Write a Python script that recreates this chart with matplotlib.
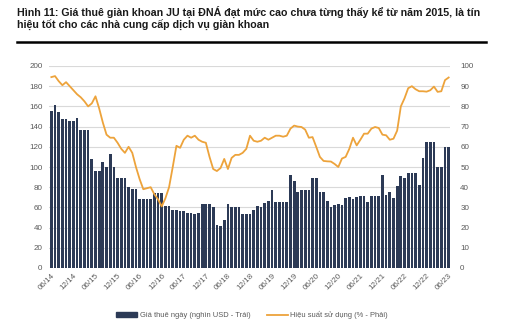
import numpy as np
import matplotlib
matplotlib.use('Agg')
import matplotlib.pyplot as plt
from matplotlib.patches import Patch
from matplotlib.lines import Line2D

plt.rcParams['font.family'] = ['Liberation Sans', 'DejaVu Sans']

# gia thue ngay (nghin USD), hang thang tu 06/14 den 06/23
day_rate = [155, 161, 154, 148, 148, 146, 146, 149, 137, 137,
            137, 108, 96, 96, 105, 100, 113, 100, 89, 89,
            89, 80, 78, 78, 68, 68, 68, 68, 74, 74,
            74, 61, 61, 57, 57, 56, 56, 54, 54, 53,
            54, 63, 63, 63, 60, 43, 42, 48, 63, 60,
            60, 60, 53, 53, 53, 57, 61, 60, 64, 66,
            77, 65, 65, 65, 65, 92, 86, 75, 77, 77,
            77, 89, 89, 75, 75, 66, 60, 62, 63, 62,
            69, 70, 68, 70, 71, 71, 65, 71, 71, 71,
            92, 72, 75, 69, 81, 91, 89, 94, 94, 94,
            82, 109, 125, 125, 125, 100, 100, 120, 120]

# hieu suat su dung (%)
utilization = [94.5, 95, 92.5, 90.5, 92, 90, 88, 86, 84.5, 82.5,
               80, 81.5, 85, 79, 72, 66, 64.5, 64.5, 62, 59,
               57, 60, 57, 50, 44, 39, 39.5, 40, 36.5, 34,
               30.5, 34.5, 40, 50, 60.5, 59.5, 63.5, 65.5, 64.5, 65.5,
               63.5, 62.5, 62, 55, 49, 48, 49.5, 54, 49, 54.5,
               56, 56, 57, 59, 65.5, 63, 62.5, 63, 64.5, 63.5,
               64.5, 65.5, 65.5, 65, 65.5, 69, 70.5, 70, 69.8, 68.5,
               64.5, 64.8, 60, 55, 53, 52.8, 52.7, 51.5, 50, 54.2,
               55, 59, 64.5, 60.7, 63.5, 66.5, 66.5, 69, 69.8, 69.3,
               66, 65.7, 63.5, 64, 68, 80, 84, 89, 90, 88.5,
               87.5, 87.5, 87.3, 88, 89.8, 87.2, 87.5, 93, 94.3]

tick_labels = ['06/14', '12/14', '06/15', '12/15', '06/16', '12/16', '06/17',
               '12/17', '06/18', '12/18', '06/19', '12/19', '06/20', '12/20',
               '06/21', '12/21', '06/22', '12/22', '06/23']

title = ('Hình 11: Giá thuê giàn khoan JU tại ĐNÁ đạt mức cao chưa từng thấy kể từ năm 2015, là tín\n'
         'hiệu tốt cho các nhà cung cấp dịch vụ giàn khoan')

navy = '#2c3a56'
orange = '#eda33b'
grey_txt = '#595959'

fig = plt.figure(figsize=(5.1, 3.29), dpi=100)
fig.text(17 / 510, 1 - 6 / 329, title, ha='left', va='top', fontsize=7.7,
         fontweight='bold', color='#1a1a1a', linespacing=1.2)
fig.add_artist(Line2D([17 / 510, 486 / 510], [1 - 42 / 329, 1 - 42 / 329],
                      color='black', lw=1.8, transform=fig.transFigure))

ax = fig.add_axes([49.5 / 510, 1 - 268 / 329, 401 / 510, 202 / 329])
x = np.arange(len(day_rate))
ax.bar(x, day_rate, width=0.74, color=navy, zorder=2)
ax.set_xlim(-0.5, len(day_rate) - 0.5)
ax.set_ylim(0, 200)
ax.set_yticks(range(0, 201, 20))
ax.grid(axis='y', color='#d9d9d9', lw=0.8, zorder=0)
ax.set_axisbelow(True)

ax2 = ax.twinx()
ax2.plot(x, utilization, color=orange, lw=1.3, zorder=3)
ax2.set_ylim(0, 100)
ax2.set_yticks(range(0, 101, 10))

ax.set_xticks(range(0, len(day_rate), 6))
ax.set_xticklabels(tick_labels, rotation=45, ha='right', rotation_mode='anchor')

for a in (ax, ax2):
    for s in a.spines.values():
        s.set_visible(False)
    a.tick_params(length=0, labelsize=5.8, colors=grey_txt)
ax.tick_params(axis='y', pad=5)
ax2.tick_params(axis='y', pad=7)
ax.tick_params(axis='x', pad=3)

handles = [Patch(color=navy), Line2D([], [], color=orange, lw=1.3)]
labels = ['Giá thuê ngày (nghìn USD - Trái)', 'Hiệu suất sử dụng (% - Phải)']
fig.legend(handles, labels, loc='center', bbox_to_anchor=(252 / 510, 1 - 315 / 329),
           ncol=2, frameon=False, fontsize=5.4, handlelength=2.8, handleheight=0.5,
           handletextpad=0.3, columnspacing=2.2, labelcolor=grey_txt)

fig.savefig('out.png', dpi=100)
